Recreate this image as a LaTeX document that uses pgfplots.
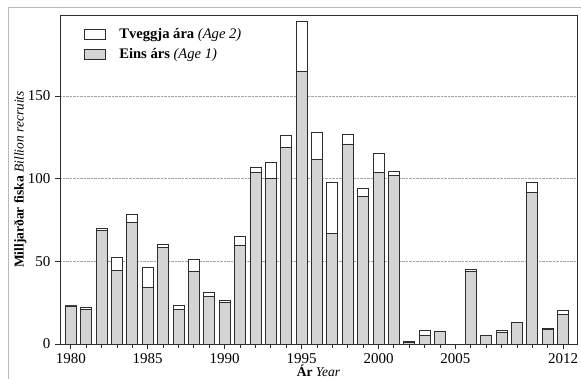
\documentclass[border=0pt]{standalone}
\usepackage{pgfplots}
\usepackage{pgfplotstable}
\pgfplotsset{compat=1.18}
\usepackage{fontspec}
\setmainfont{Liberation Serif}
\definecolor{barfill}{RGB}{212,212,212}
\definecolor{edge}{RGB}{45,45,45}
\pgfplotstableread{
year a1 a2
1980 23 0.5
1981 21 1
1982 68.5 1.5
1983 44.5 8
1984 73.5 5
1985 34 12.5
1986 58.5 1.5
1987 21 2.5
1988 44 7
1989 29 2
1990 25 1.5
1991 59.5 5.5
1992 104 3
1993 100 10
1994 119 7
1995 165 30
1996 111.5 16.5
1997 67 30.5
1998 121 5.5
1999 89.5 4.5
2000 104 11
2001 102 2.5
2002 1 0.5
2003 5 3
2004 7.5 0.3
2005 0 0
2006 44 1
2007 5 0.5
2008 7.3 0.7
2009 12.8 0.2
2010 91.5 6.5
2011 8.7 0.8
2012 18 2.5
}\datatable
\begin{document}
\fontsize{13.5}{16}\selectfont
\begin{tikzpicture}
\path[use as bounding box] (-60pt,-35pt) rectangle (521pt,344pt);
\draw[gray!55, line width=0.8pt] (-52pt,-35pt) -- (-52pt,337pt) -- (521pt,337pt);
\begin{axis}[
  at={(0,0)}, anchor=south west,
  scale only axis, width=517pt, height=329pt,
  xmin=1979.3, xmax=2012.9, ymin=0, ymax=199,
  ybar stacked, bar width=11pt,
  axis line style={edge, line width=0.9pt},
  xtick={1980,1985,1990,1995,2000,2005,2012},
  minor xtick={1980,...,2012},
  ytick={0,50,100,150},
  xticklabel style={/pgf/number format/1000 sep={}},
  ticklabel style={font=\fontsize{15}{17}\selectfont},
  /pgf/number format/assume math mode=true,
  xtick pos=bottom, ytick pos=left,
  tick align=outside,
  major tick length=5pt, minor tick length=4pt,
  tick style={edge, line width=0.8pt},
  ymajorgrids, grid style={gray!70, densely dotted, line width=0.7pt},
  xlabel={\textbf{Ár} \textit{Year}},
  ylabel={\textbf{Milljarðar fiska} \textit{Billion recruits}},
  every axis y label/.style={at={(axis description cs:-0.077,0.5)}, rotate=90, anchor=center},
  every axis x label/.style={at={(axis description cs:0.5,0)}, yshift=-27pt, anchor=center},
  reverse legend,
  legend cell align=left,
  legend style={draw=none, fill=none, at={(0.04,0.972)}, anchor=north west,
    font=\fontsize{14.6}{17}\selectfont, row sep=4pt},
  legend image code/.code={\draw[#1, line width=0.8pt] (0pt,-5pt) rectangle (21pt,5pt);
    \path[draw=none, fill=none] (21pt,0pt) -- (33pt,0pt);},
]
\addplot[fill=barfill, draw=edge, line width=0.8pt] table[x=year, y=a1] {\datatable};
\addlegendentry{\textbf{Eins árs} \textit{(Age 1)}}
\addplot[fill=white, draw=edge, line width=0.8pt] table[x=year, y=a2] {\datatable};
\addlegendentry{\textbf{Tveggja ára} \textit{(Age 2)}}
\end{axis}
\end{tikzpicture}
\end{document}
